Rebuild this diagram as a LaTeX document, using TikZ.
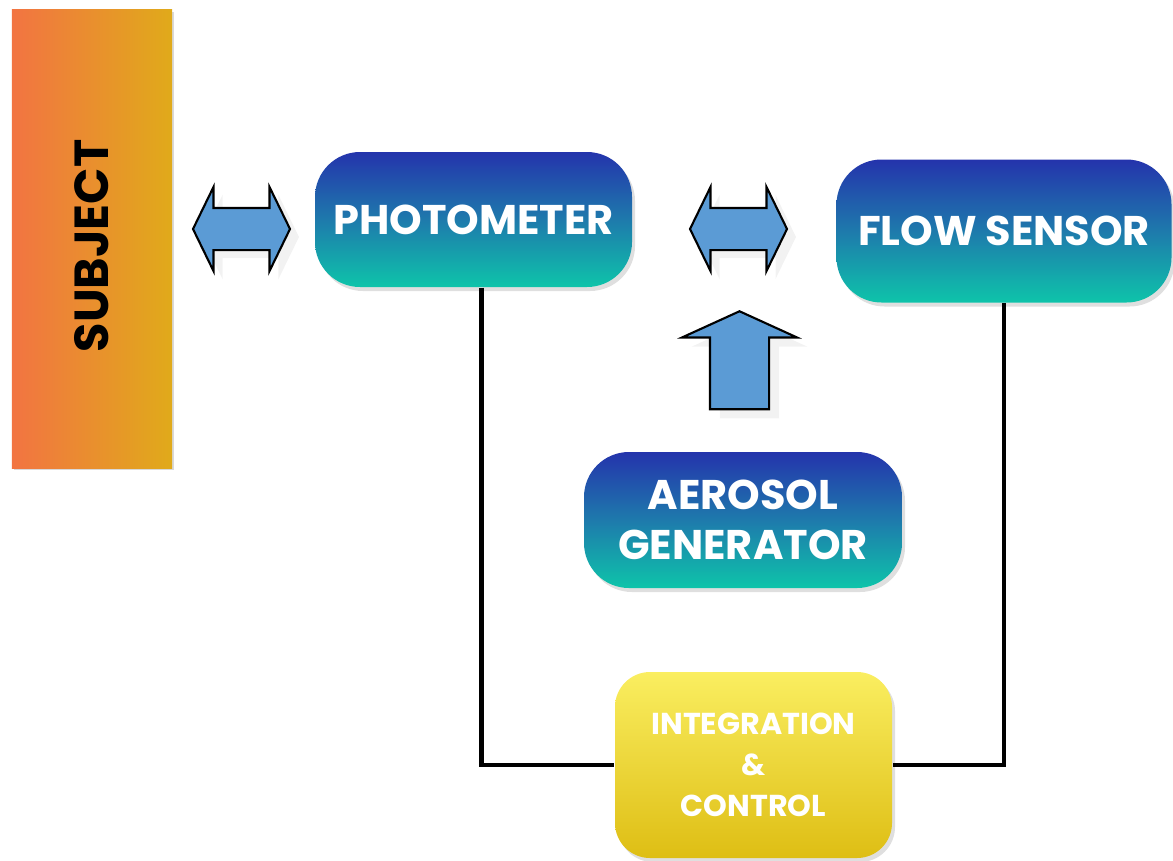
\documentclass[tikz,border=0pt]{standalone}
\usepackage{fontspec}
\usepackage{tikz}
\usetikzlibrary{shapes.arrows,shadows,calc}
\newfontfamily\boxfont{Poppins}
\definecolor{subjL}{RGB}{242,116,66}
\definecolor{subjR}{RGB}{224,170,26}
\definecolor{pillTop}{RGB}{36,52,172}
\definecolor{pillMid}{RGB}{30,122,172}
\definecolor{pillBot}{RGB}{14,196,170}
\definecolor{ctrlTop}{RGB}{250,238,96}
\definecolor{ctrlBot}{RGB}{222,190,20}
\definecolor{arrblue}{RGB}{91,155,213}

\begin{document}
\begin{tikzpicture}[
  pill/.style={rounded corners=0.45cm, top color=pillTop, bottom color=pillBot, middle color=pillMid,
    inner sep=0pt, text=white, align=center, font=\boxfont\bfseries\fontsize{11.8}{14.2}\selectfont,
    drop shadow={opacity=0.25, shadow xshift=0.03cm, shadow yshift=-0.04cm}},
  ctrlbox/.style={rounded corners=0.35cm, top color=ctrlTop, bottom color=ctrlBot,
    inner sep=0pt, text=white, align=center, font=\boxfont\bfseries\fontsize{8.6}{11.6}\selectfont,
    drop shadow={opacity=0.25, shadow xshift=0.03cm, shadow yshift=-0.04cm}},
  dblarr/.style={double arrow, draw=black, fill=arrblue, line width=0.6pt, inner xsep=0pt, inner ysep=0.2cm,
    minimum width=0.82cm, minimum height=0.97cm, double arrow head extend=0.21cm, double arrow tip angle=128,
    drop shadow={opacity=0.1, shadow xshift=0.09cm, shadow yshift=-0.08cm}},
  uparr/.style={single arrow, rotate=90, draw=black, fill=arrblue, line width=0.6pt, inner xsep=0pt, inner ysep=0.285cm,
    minimum width=1.13cm, minimum height=0.98cm, single arrow head extend=0.28cm, single arrow tip angle=131,
    drop shadow={opacity=0.1, shadow xshift=0.1cm, shadow yshift=-0.09cm}},
  wire/.style={line width=1.4pt},
]
\useasboundingbox (0,0) rectangle (11.73,-8.60);

\node[left color=subjL, right color=subjR, minimum width=1.6cm, minimum height=4.58cm, inner sep=0pt,
      drop shadow={opacity=0.3, shadow xshift=0.02cm, shadow yshift=-0.02cm}] (subject) at (0.92,-2.39) {};
\node[rotate=90, font=\boxfont\bfseries\fontsize{13.6}{16}\selectfont] (subjtext) at ([yshift=-0.07cm]subject.center) {SUBJECT};

\node[pill, minimum width=3.17cm, minimum height=1.35cm] (photo) at (4.735,-2.195) {PHOTOMETER};
\node[pill, minimum width=3.35cm, minimum height=1.43cm] (flow) at (10.04,-2.31) {FLOW SENSOR};
\node[pill, minimum width=3.18cm, minimum height=1.36cm] (aero) at (7.43,-5.20) {AEROSOL\\GENERATOR};
\node[ctrlbox, minimum width=2.77cm, minimum height=1.86cm] (ctrl) at (7.535,-7.65) {INTEGRATION\\\&\\CONTROL};

\node[dblarr] (arrA) at (2.415,-2.29) {};
\node[dblarr] (arrB) at (7.385,-2.29) {};
\node[uparr] (arrC) at (7.395,-3.67) {};

\draw[wire] ([xshift=0.08cm]photo.south) |- (ctrl.west);
\draw[wire] (flow.south) |- (ctrl.east);
\end{tikzpicture}
\end{document}
